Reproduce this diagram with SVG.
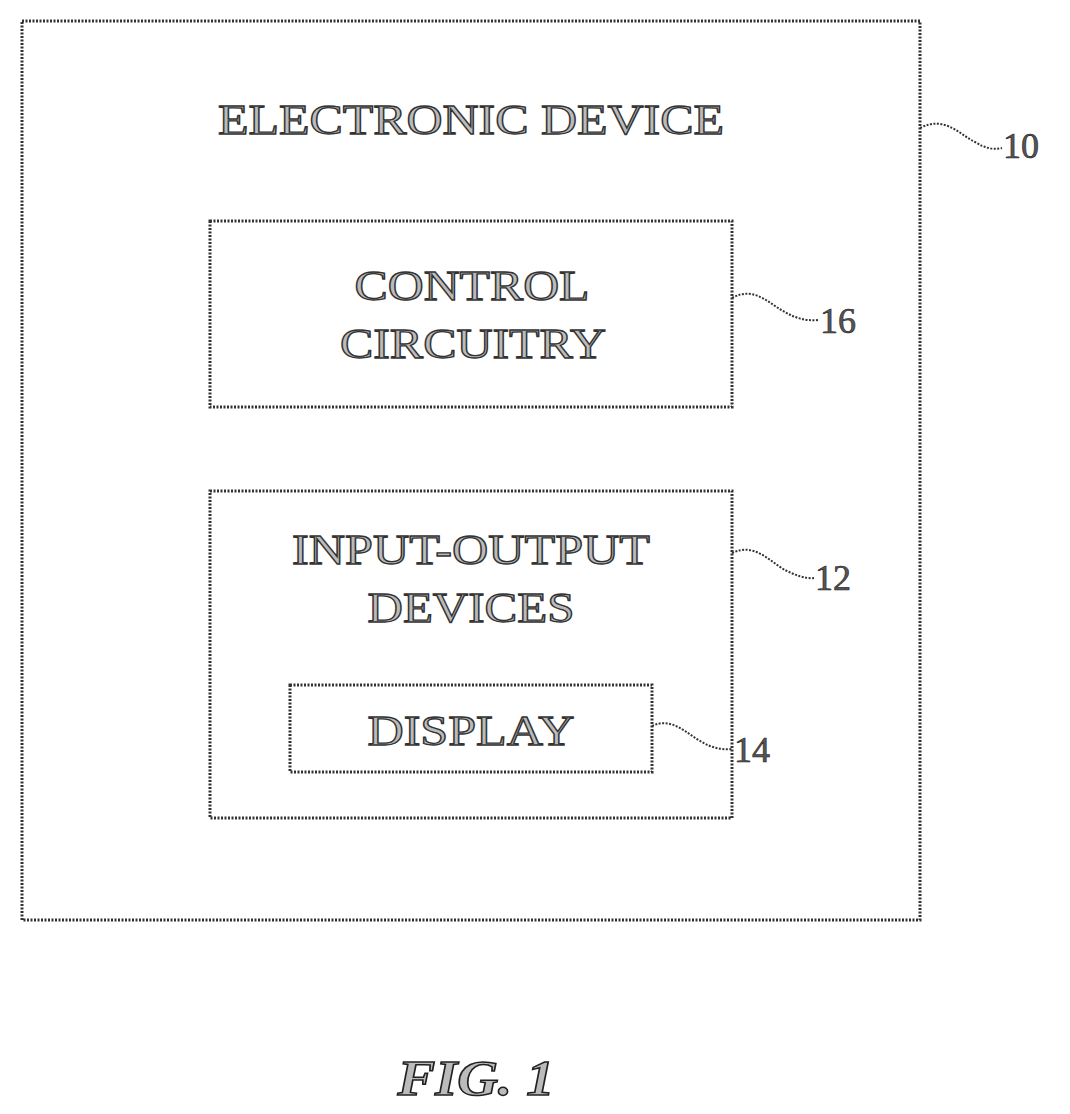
<svg xmlns="http://www.w3.org/2000/svg" width="1070" height="1114" viewBox="0 0 1070 1114">
<style>
.b{fill:none;stroke:#333;stroke-width:3;stroke-dasharray:2 1.5}
.t{font-family:"Liberation Serif",serif;font-size:42px;fill:#bbb;stroke:#333;stroke-width:1.3;text-anchor:middle;lengthAdjust:spacingAndGlyphs}
.n{font-family:"Liberation Serif",serif;font-size:36px;fill:#555;stroke:#222;stroke-width:0.6}
.l{fill:none;stroke:#333;stroke-width:2;stroke-dasharray:2 1.5}
</style>
<rect width="1070" height="1114" fill="#fff"/>
<g id="device"><rect class="b" x="22" y="21" width="898" height="899"/><text class="t" x="471" y="134" textLength="506" lengthAdjust="spacingAndGlyphs">ELECTRONIC DEVICE</text></g>
<g id="control"><rect class="b" x="210" y="221" width="522" height="186"/><text class="t" x="472" y="300" textLength="235" lengthAdjust="spacingAndGlyphs">CONTROL</text><text class="t" x="473" y="358" textLength="266" lengthAdjust="spacingAndGlyphs">CIRCUITRY</text></g>
<g id="io"><rect class="b" x="210" y="491" width="522" height="327"/><text class="t" x="471" y="564" textLength="358" lengthAdjust="spacingAndGlyphs">INPUT-OUTPUT</text><text class="t" x="471" y="622" textLength="207" lengthAdjust="spacingAndGlyphs">DEVICES</text></g>
<g id="display"><rect class="b" x="290" y="685" width="362" height="87"/><text class="t" x="471" y="745" textLength="207" lengthAdjust="spacingAndGlyphs">DISPLAY</text></g>
<g id="connectors">
<path class="l" d="M920,128 C945,115 960,135 975,142 C985,148 992,150 1002,148"/>
<path class="l" d="M732,298 C755,285 770,305 785,312 C795,318 805,321 818,320"/>
<path class="l" d="M732,553 C755,542 770,562 785,570 C795,575 805,579 814,578"/>
<path class="l" d="M652,726 C672,716 688,735 702,742 C712,748 722,750 732,749"/>
</g>
<text class="n" x="1003" y="158">10</text>
<text class="n" x="820" y="333">16</text>
<text class="n" x="815" y="590">12</text>
<text class="n" x="734" y="762">14</text>
<text x="476" y="1095" textLength="157" lengthAdjust="spacingAndGlyphs" style="font-family:'Liberation Serif',serif;font-size:50px;font-style:italic;font-weight:bold;fill:#bbb;stroke:#222;stroke-width:1.5;text-anchor:middle">FIG. 1</text>
</svg>
